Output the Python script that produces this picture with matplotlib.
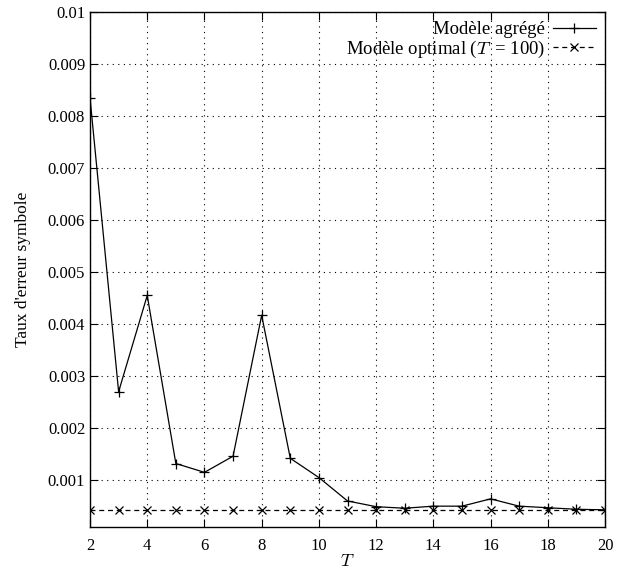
import matplotlib
matplotlib.use("Agg")
import matplotlib.pyplot as plt
from matplotlib.ticker import FormatStrFormatter

plt.rcParams["font.family"] = ["Liberation Serif", "DejaVu Serif"]
plt.rcParams["mathtext.fontset"] = "cm"

# Data
T = [2, 3, 4, 5, 6, 7, 8, 9, 10, 11, 12, 13, 14, 15, 16, 17, 18, 19, 20]
ter_agrege = [0.00835, 0.0027, 0.00455, 0.00132, 0.00115, 0.00146, 0.00417,
              0.00142, 0.00105, 0.0006, 0.00049, 0.00046, 0.0005, 0.0005,
              0.00064, 0.0005, 0.00047, 0.00044, 0.00043]
ter_optimal = [0.00043] * len(T)

xticks = [2, 4, 6, 8, 10, 12, 14, 16, 18, 20]
yticks = [0.001, 0.002, 0.003, 0.004, 0.005, 0.006, 0.007, 0.008, 0.009, 0.01]

fig = plt.figure(figsize=(6.19, 5.71), dpi=100)
ax = fig.add_axes([0.1454, 0.0771, 0.832, 0.902])

ax.plot(T, ter_agrege, color="black", lw=0.9, marker="+", ms=6.5, mew=0.9,
        label="Modèle agrégé")
ax.plot(T, ter_optimal, color="black", lw=0.9, ls=(0, (4, 3)), marker="x",
        ms=5.5, mew=0.9, label=r"Modèle optimal ($T\,$ = 100)")

ax.set_xlim(2, 20)
ax.set_ylim(0.0001, 0.01)
ax.set_xticks(xticks)
ax.set_yticks(yticks)
ax.yaxis.set_major_formatter(FormatStrFormatter("%g"))
ax.tick_params(direction="in", top=True, right=True, length=6, labelsize=12,
               width=0.8)
ax.tick_params(axis="x", pad=8)
ax.grid(True, color="black", ls=(0, (1, 4)), lw=0.8)
for s in ax.spines.values():
    s.set_linewidth(1.0)

ax.set_xlabel("$T$", fontsize=13, labelpad=-1)
ax.set_ylabel("Taux d'erreur symbole", fontsize=12.5, labelpad=12)

leg = ax.legend(loc="upper right", frameon=False, markerfirst=False,
                fontsize=13.5, handlelength=2.3, borderaxespad=0.1,
                labelspacing=0.0, handletextpad=0.4)
for t in leg.get_texts():
    t.set_ha("right")

fig.savefig("out.png", dpi=100)
